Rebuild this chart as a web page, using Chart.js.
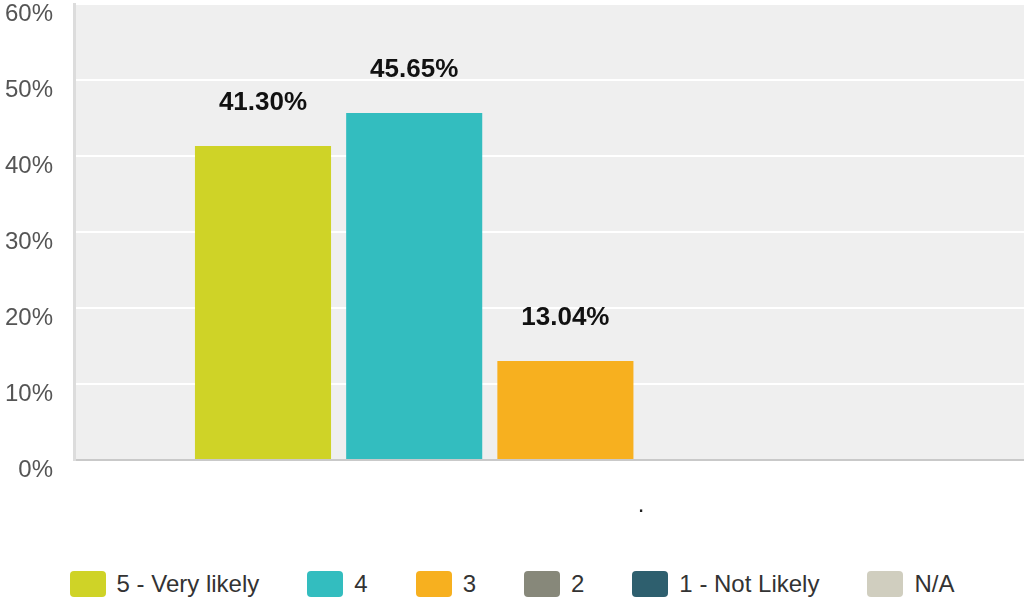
<!DOCTYPE html>
<html>
<head>
<meta charset="utf-8">
<script src="https://cdn.jsdelivr.net/npm/chart.js@4/dist/chart.umd.min.js"></script>
<style>
  html, body { margin: 0; padding: 0; background: #ffffff; }
  body { width: 1024px; height: 598px; overflow: hidden; position: relative; font-family: 'Liberation Sans', Arial, sans-serif; }
  #wrap { position: absolute; left: 0; top: 0; width: 1208px; height: 540px; }
  #legend { position: absolute; left: 0; top: 571px; width: 1024px; height: 26px;
            display: flex; justify-content: center; align-items: center; }
  .item { display: flex; align-items: center; margin: 0 24px; }
  .swatch { width: 36px; height: 26px; border-radius: 4px; margin-right: 11px; }
  .label { font-size: 24px; color: #333333; line-height: 26px; white-space: nowrap; }
</style>
</head>
<body>
<div id="wrap"><canvas id="c" width="1208" height="540"></canvas></div>
<div id="legend"></div>
<script>
// Survey answer categories and their share of responses (%)
const categories = ['.'];
const seriesLabels = ['5 - Very likely', '4', '3', '2', '1 - Not Likely', 'N/A'];
const seriesValues = [[41.30], [45.65], [13.04], [0], [0], [0]];
const seriesColors = ['#cfd327', '#33bdbf', '#f7b01f', '#87887a', '#2e5f6e', '#d0cebf'];
const yTicks = [0, 10, 20, 30, 40, 50, 60];

Chart.defaults.font.family = "'Liberation Sans', Arial, sans-serif";

// Grey plot background behind the grid
const plotBackground = {
  id: 'plotBackground',
  beforeDraw(chart) {
    const { ctx, chartArea: a } = chart;
    ctx.save();
    ctx.fillStyle = '#efefef';
    ctx.fillRect(a.left, a.top, a.right - a.left, a.bottom - a.top);
    ctx.restore();
  }
};

// Percentage labels above each non-empty bar
const barValueLabels = {
  id: 'barValueLabels',
  afterDatasetsDraw(chart) {
    const { ctx } = chart;
    ctx.save();
    ctx.font = 'bold 26px "Liberation Sans", Arial, sans-serif';
    ctx.fillStyle = '#111111';
    ctx.textAlign = 'center';
    ctx.textBaseline = 'middle';
    chart.data.datasets.forEach((ds, i) => {
      const meta = chart.getDatasetMeta(i);
      meta.data.forEach((bar, j) => {
        const v = ds.data[j];
        if (v > 0) ctx.fillText(v.toFixed(2) + '%', bar.x, bar.y - 43);
      });
    });
    ctx.restore();
  }
};

const datasets = seriesLabels.map((label, i) => ({
  label,
  data: seriesValues[i],
  backgroundColor: seriesColors[i],
  borderWidth: 0,
  barPercentage: 0.9,
  categoryPercentage: 0.8
}));

new Chart(document.getElementById('c'), {
  type: 'bar',
  data: { labels: categories, datasets },
  options: {
    responsive: false,
    animation: false,
    layout: { padding: { top: 4, left: 0, right: 0, bottom: 0 } },
    plugins: { legend: { display: false }, tooltip: { enabled: false } },
    scales: {
      x: {
        grid: { display: false },
        border: { display: true, color: '#c9c9c9', width: 2 },
        ticks: { color: '#222222', font: { size: 24 }, padding: 23 },
        afterFit(scale) {
          scale.height = 80;
          scale.paddingLeft = 0;
          scale.paddingRight = 0;
        }
      },
      y: {
        min: 0,
        max: 60,
        afterBuildTicks(scale) { scale.ticks = yTicks.map(v => ({ value: v })); },
        grid: { color: '#ffffff', lineWidth: 2, drawTicks: false },
        border: { display: true, color: '#dcdcdc', width: 3 },
        ticks: {
          color: '#555555',
          font: { size: 24 },
          padding: 21,
          labelOffset: 10,
          callback: v => v + '%'
        },
        afterFit(scale) {
          scale.width = 74;
          scale.paddingTop = 0;
          scale.paddingBottom = 0;
        }
      }
    }
  },
  plugins: [plotBackground, barValueLabels]
});

// Legend row built from the same series
const legend = document.getElementById('legend');
seriesLabels.forEach((label, i) => {
  const item = document.createElement('div');
  item.className = 'item';
  const sw = document.createElement('div');
  sw.className = 'swatch';
  sw.style.background = seriesColors[i];
  const tx = document.createElement('span');
  tx.className = 'label';
  tx.textContent = label;
  item.appendChild(sw);
  item.appendChild(tx);
  legend.appendChild(item);
});
</script>
</body>
</html>
